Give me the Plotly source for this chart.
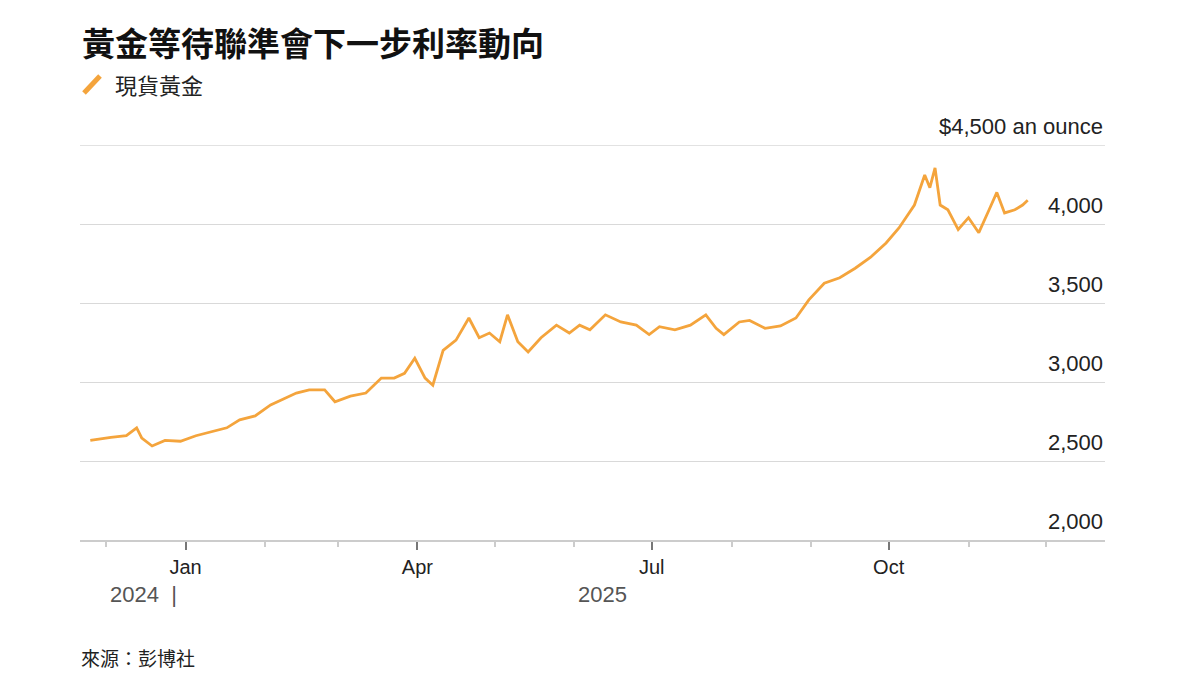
import plotly.graph_objects as go

dates = ["2024-11-25","2024-12-03","2024-12-09","2024-12-13","2024-12-15","2024-12-19","2024-12-24","2024-12-30",
"2025-01-05","2025-01-11","2025-01-17","2025-01-22","2025-01-28","2025-02-03","2025-02-09","2025-02-13","2025-02-18",
"2025-02-24","2025-02-28","2025-03-06","2025-03-12","2025-03-18","2025-03-23","2025-03-27","2025-03-31","2025-04-04",
"2025-04-07","2025-04-11","2025-04-16","2025-04-21","2025-04-25","2025-04-29","2025-05-03","2025-05-06","2025-05-10",
"2025-05-14","2025-05-19","2025-05-25","2025-05-30","2025-06-03","2025-06-07","2025-06-13","2025-06-19","2025-06-25",
"2025-06-30","2025-07-04","2025-07-10","2025-07-16","2025-07-22","2025-07-26","2025-07-29","2025-08-04","2025-08-08",
"2025-08-14","2025-08-20","2025-08-26","2025-08-31","2025-09-06","2025-09-12","2025-09-18","2025-09-24","2025-09-30",
"2025-10-05","2025-10-11","2025-10-15","2025-10-17","2025-10-19","2025-10-21","2025-10-24","2025-10-28","2025-11-01",
"2025-11-05","2025-11-09","2025-11-12","2025-11-15","2025-11-19","2025-11-22","2025-11-24"]
gold = [2630,2650,2660,2710,2645,2595,2630,2625,
2660,2685,2710,2760,2785,2855,2900,2930,2950,
2950,2875,2910,2930,3025,3025,3055,3150,3025,
2980,3200,3265,3405,3280,3310,3255,3425,3255,
3190,3280,3360,3310,3360,3330,3425,3380,3360,
3300,3350,3330,3360,3425,3340,3300,3380,3390,
3340,3355,3405,3520,3625,3660,3720,3790,3880,
3975,4120,4310,4230,4355,4120,4090,3965,4040,
3945,4090,4200,4070,4090,4120,4150]
y_ticks = [2000,2500,3000,3500,4000]
y_labels = ["2,000","2,500","3,000","3,500","4,000"]
x_major = ["2025-01-01","2025-04-01","2025-07-01","2025-10-01"]
x_major_labels = ["Jan","Apr","Jul","Oct"]

ORANGE = "#f4a43c"
FONT = "Liberation Sans, Arial, sans-serif"
CJK = "Noto Sans CJK TC"

def px(x): return (x-80)/1025
def py(y): return (540-y)/395

fig = go.Figure(go.Scatter(x=dates, y=gold, mode="lines",
                           line=dict(color=ORANGE, width=2.8), hoverinfo="skip"))

fig.update_layout(
    width=1200, height=675, margin=dict(l=72, r=103, t=137, b=143),
    paper_bgcolor="white", plot_bgcolor="white", showlegend=False,
    font=dict(family=FONT, size=20, color="#222"),
    xaxis=dict(range=["2024-11-21","2025-12-24"], tickvals=x_major, ticktext=x_major_labels,
               ticks="outside", ticklen=8, tickcolor="#777", tickwidth=1.5,
               showgrid=False, showline=True, linecolor="#ccc", linewidth=2,
               tickfont=dict(size=20, color="#222"),
               minor=dict(dtick="M1", tick0="2024-12-01", ticks="outside", ticklen=5, tickcolor="#ccc", showgrid=False)),
    yaxis=dict(range=[2000,4500], tickvals=[2500,3000,3500,4000], showticklabels=False,
               showgrid=True, gridcolor="#d9d9d9", gridwidth=1.3, zeroline=False, fixedrange=True),
)
ann = []
for v, t in zip(y_ticks, y_labels):
    ann.append(dict(x=1, xref="paper", y=v, yref="y", text=t, showarrow=False,
                    xanchor="right", yanchor="bottom", yshift=4, font=dict(size=22, color="#222")))
ann.append(dict(x=1, xref="paper", y=4500, yref="y", text="$4,500 an ounce", showarrow=False,
                xanchor="right", yanchor="bottom", yshift=4, font=dict(size=22, color="#222")))
ann.append(dict(x=px(80), y=py(42), xref="paper", yref="paper", text="<b>黃金等待聯準會下一步利率動向</b>",
                showarrow=False, xanchor="left", yanchor="middle", font=dict(size=33, color="#111", family=CJK)))
ann.append(dict(x=px(113), y=py(84), xref="paper", yref="paper", text="現貨黃金",
                showarrow=False, xanchor="left", yanchor="middle", font=dict(size=22, color="#222", family=CJK)))
ann.append(dict(x=px(79), y=py(657), xref="paper", yref="paper", text="來源：彭博社",
                showarrow=False, xanchor="left", yanchor="middle", font=dict(size=19, color="#222", family=CJK)))
ann.append(dict(x=px(108), y=py(594), xref="paper", yref="paper", text="2024  |",
                showarrow=False, xanchor="left", yanchor="middle", font=dict(size=22, color="#555")))
ann.append(dict(x=px(576), y=py(594), xref="paper", yref="paper", text="2025",
                showarrow=False, xanchor="left", yanchor="middle", font=dict(size=22, color="#555")))
fig.update_layout(annotations=ann)
fig.add_shape(type="line", xref="paper", yref="y", x0=0, x1=1, y0=4500, y1=4500,
              line=dict(color="#d9d9d9", width=1.3), layer="below")
fig.add_shape(type="line", xref="paper", yref="paper", x0=px(84), x1=px(100),
              y0=py(93), y1=py(76), line=dict(color=ORANGE, width=5))
fig.write_html("out.html")
